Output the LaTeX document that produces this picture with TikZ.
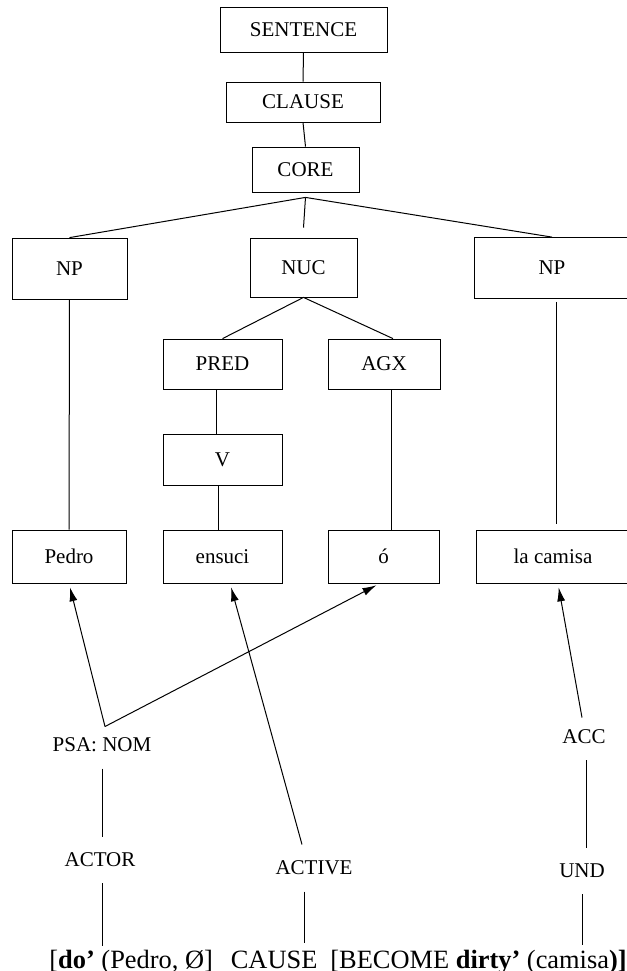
\documentclass[tikz,border=0pt]{standalone}
\usepackage{fontspec}
\setmainfont{Liberation Serif}
\usetikzlibrary{arrows.meta}

\begin{document}
\begin{tikzpicture}[
    x=0.5pt, y=-0.5pt,
    box/.style={rectangle, draw, inner sep=0pt, font=\fontsize{10.5}{12}\selectfont},
    lbl/.style={inner xsep=0pt, inner ysep=8pt, font=\fontsize{10.5}{12}\selectfont},
    link/.style={line width=0.5pt},
    arr/.style={-{Latex[length=7pt,width=4pt]}, line width=0.5pt, shorten >=2pt}
]
\useasboundingbox (0,0) rectangle (627,971);

% Layered structure
\node[box, minimum width=83.5pt, minimum height=22.5pt] (sentence) at (303.5,30) {SENTENCE};
\node[box, minimum width=77pt, minimum height=20pt] (clause) at (303,102) {CLAUSE};
\node[box, minimum width=53.5pt, minimum height=22.5pt] (core) at (305.5,169.5) {CORE};

\node[box, minimum width=57.5pt, minimum height=30.5pt] (npl) at (69.5,268.5) {NP};
\node[box, minimum width=53.5pt, minimum height=29.5pt] (nuc) at (303.5,267.5) {NUC};
\node[box, minimum width=78pt, minimum height=30.5pt] (npr) at (552,268) {NP};

\node[box, minimum width=59.5pt, minimum height=25pt] (pred) at (222.5,364) {PRED};
\node[box, minimum width=56pt, minimum height=25pt] (agx) at (384,364) {AGX};
\node[box, minimum width=59.5pt, minimum height=25.5pt] (v) at (222.5,459.5) {V};

% Words
\node[box, minimum width=57pt, minimum height=26.5pt] (pedro) at (69,556.5) {Pedro};
\node[box, minimum width=59.5pt, minimum height=26.5pt] (ensuci) at (222.5,556.5) {ensuci};
\node[box, minimum width=55.5pt, minimum height=26.5pt] (o) at (383.5,556.5) {ó};
\node[box, minimum width=77pt, minimum height=26.5pt] (camisa) at (553,556.5) {la camisa};

% Linking labels
\node[lbl] (psa) at (102,745) {PSA: NOM};
\node[lbl] (actor) at (100,860) {ACTOR};
\node[lbl] (active) at (314,868) {ACTIVE};
\node[lbl] (acc) at (584,737) {ACC};
\node[lbl] (und) at (582,871) {UND};

% Logical structure
\node[inner sep=0pt, anchor=base west, font=\fontsize{13.2}{15}\selectfont] (ls) at (49,968)
    {[\textbf{do’} (Pedro, Ø]\hspace{9pt}CAUSE\hspace{6.5pt}[BECOME \textbf{dirty’} (camisa\textbf{)]}};

% Tree lines
\draw[link] (sentence.south) -- (clause.north);
\draw[link] (clause.south) -- (core.north);
\draw[link] ([yshift=-2.5pt]core.south) -- (npl.north);
\draw[link] ([yshift=-2.5pt]core.south) -- ([yshift=5pt]nuc.north);
\draw[link] ([yshift=-2.5pt]core.south) -- (npr.north);
\draw[link] (nuc.south) -- (pred.north);
\draw[link] (nuc.south) -- ([xshift=4.5pt]agx.north);
\draw[link] ([xshift=-3pt]pred.south) -- ([xshift=-3pt]v.north);
\draw[link] ([xshift=-2pt]v.south) -- ([xshift=-2pt]ensuci.north);
\draw[link] ([xshift=3.5pt]agx.south) -- ([xshift=3.75pt]o.north);
\draw[link] (npl.south) -- (pedro.north);
\draw[link, shorten <=1.5pt, shorten >=3pt] ([xshift=2pt]npr.south) -- ([xshift=1.5pt]camisa.north);

% Linking arrows
\draw[arr] ([xshift=1.5pt,yshift=-2.5pt]psa.north) -- (pedro.south);
\draw[arr] ([xshift=1.5pt,yshift=-2.5pt]psa.north) -- ([xshift=-1.75pt]o.south);
\draw[arr] ([xshift=-6pt]active.north) -- ([xshift=3.75pt]ensuci.south);
\draw[arr] ([xshift=-1pt,yshift=-2pt]acc.north) -- ([xshift=2.5pt]camisa.south);

% Lines to the logical structure
\draw[link] (psa.south) -- (psa.south |- actor.north);
\draw[link] (psa.south |- actor.south) -- ([yshift=1.5pt]psa.south |- ls.north);
\draw[link] ([xshift=-5pt]active.south) -- ([xshift=-5pt,yshift=3pt]active.south |- ls.north);
\draw[link] ([xshift=1pt]acc.south) -- ([xshift=2pt]und.north);
\draw[link] (und.south) -- ([yshift=2pt]und.south |- ls.north);

\end{tikzpicture}
\end{document}
